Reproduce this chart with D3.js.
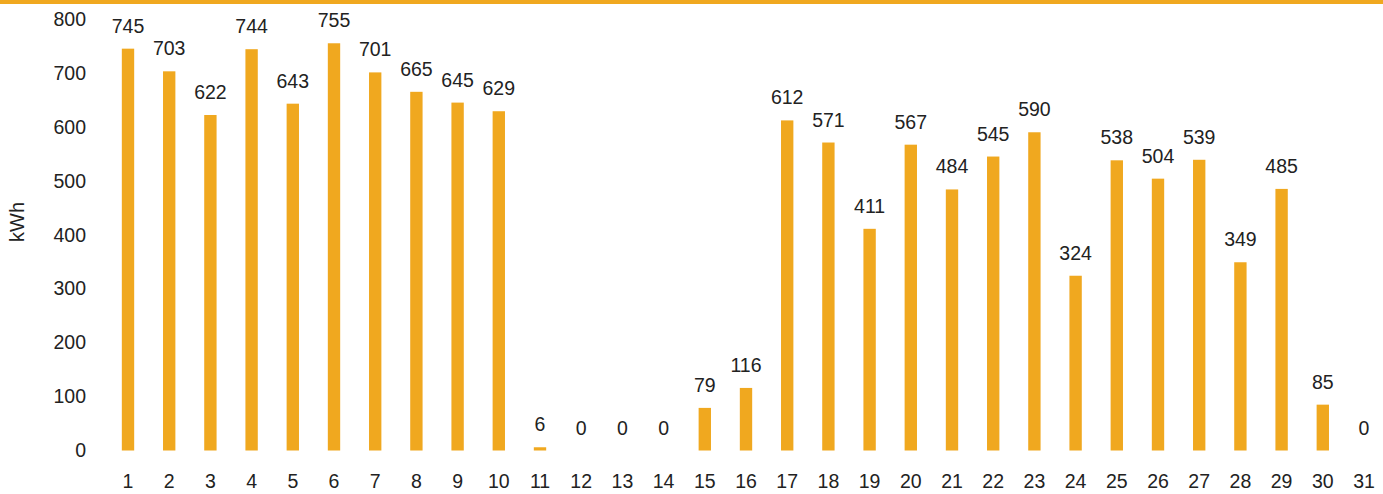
<!DOCTYPE html>
<html>
<head>
<meta charset="utf-8">
<script src="https://cdn.jsdelivr.net/npm/d3@7"></script>
<style>
  html, body { margin: 0; padding: 0; background: #fff; }
  svg { display: block; }
  text { font-family: "Liberation Sans", Arial, Helvetica, sans-serif; fill: #222; }
</style>
</head>
<body>
<svg id="chart" width="1383" height="494"></svg>
<script>
const days = d3.range(1, 32).map(String);
const values = [745, 703, 622, 744, 643, 755, 701, 665, 645, 629, 6, 0, 0, 0, 79, 116, 612, 571, 411, 567, 484, 545, 590, 324, 538, 504, 539, 349, 485, 85, 0];
const yTicks = [0, 100, 200, 300, 400, 500, 600, 700, 800];
const yLabel = "kWh";

const W = 1383, H = 494;
const barColor = "#F0A81F";
const fs = 19.5;
const svg = d3.select("#chart");

// top accent line
svg.append("rect").attr("x", 0).attr("y", 0).attr("width", W).attr("height", 4).attr("fill", "#F0A81F");

const x = d3.scaleBand().domain(days).range([107.4, 1384.6]).paddingInner(0.7).paddingOuter(0.35);
const y = d3.scaleLinear().domain([0, 800]).range([450.5, 19]);

// y axis labels
const yAxis = d3.axisLeft(y).tickValues(yTicks).tickSize(0).tickPadding(0);
const gy = svg.append("g").attr("transform", "translate(86,0)").call(yAxis);
gy.select(".domain").remove();
gy.selectAll("text").attr("font-size", fs).attr("fill", "#222")
  .style("font-family", '"Liberation Sans", Arial, sans-serif');

// x axis labels
const xAxis = d3.axisBottom(x).tickSize(0).tickPadding(0);
const gx = svg.append("g").attr("transform", "translate(0,474)").call(xAxis);
gx.select(".domain").remove();
gx.selectAll("text").attr("font-size", fs).attr("fill", "#222").attr("dy", "0.71em")
  .style("font-family", '"Liberation Sans", Arial, sans-serif');

// y label
svg.append("text")
  .attr("transform", "translate(24,222) rotate(-90)")
  .attr("text-anchor", "middle")
  .attr("font-size", 20)
  .text(yLabel);

const data = days.map((d, i) => ({ day: d, v: values[i] }));

svg.append("g").selectAll("rect").data(data).join("rect")
  .attr("x", d => x(d.day))
  .attr("width", x.bandwidth())
  .attr("y", d => Math.min(y(d.v), y(0) - (d.v > 0 ? 3 : 0)))
  .attr("height", d => d.v > 0 ? Math.max(y(0) - y(d.v), 3) : 0)
  .attr("fill", barColor);

svg.append("g").selectAll("text").data(data).join("text")
  .attr("x", d => x(d.day) + x.bandwidth() / 2)
  .attr("y", d => y(d.v) - 16)
  .attr("text-anchor", "middle")
  .attr("font-size", fs)
  .text(d => d.v);
</script>
</body>
</html>
